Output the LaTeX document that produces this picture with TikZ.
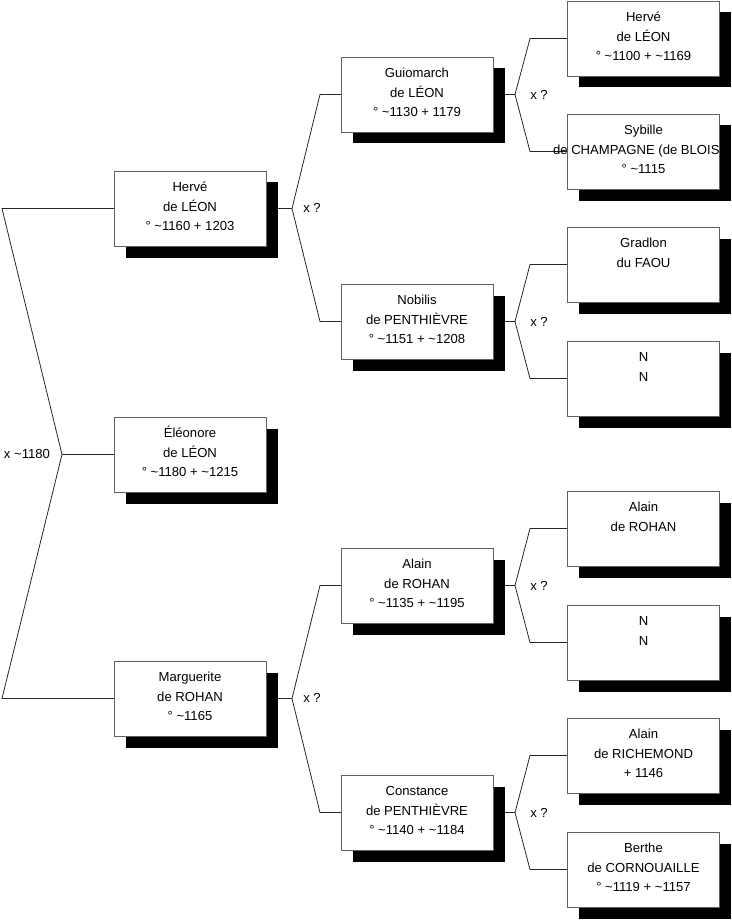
\documentclass[tikz,border=0pt]{standalone}
\usepackage{fontspec}
\setmainfont{Liberation Sans}
\usetikzlibrary{shadows,backgrounds}
\newcommand\bxtext[1]{\parbox[t][75pt][t]{152pt}{\centering\rule{0pt}{20.7pt}#1}}
\tikzset{
  pbox/.style={draw=black!62, line width=0.8pt, fill=white,
    minimum width=152pt, minimum height=75pt, inner sep=0pt, outer sep=0pt,
    font=\fontsize{13.1}{19.6}\selectfont,
    drop shadow={shadow xshift=11.5pt, shadow yshift=-11.5pt, fill=black, opacity=1}},
  conn/.style={draw=black!85, line width=0.8pt},
  lbl/.style={font=\fontsize{13.1}{15}\selectfont, inner sep=0pt}
}
\begin{document}
\begin{tikzpicture}[x=1pt,y=-1pt]
\useasboundingbox (0,0) rectangle (731,920);
% column 1
\node[pbox] (herve1) at (190,208.5) {\bxtext{Hervé\\de LÉON\\° \textasciitilde1160 + 1203}};
\node[pbox] (eleo) at (190,454.5) {\bxtext{Éléonore\\de LÉON\\° \textasciitilde1180 + \textasciitilde1215}};
\node[pbox] (marg) at (190,698.5) {\bxtext{Marguerite\\de ROHAN\\° \textasciitilde1165}};
% column 2
\node[pbox] (guio) at (417,94.5) {\bxtext{Guiomarch\\de LÉON\\° \textasciitilde1130 + 1179}};
\node[pbox] (nobi) at (417,321.5) {\bxtext{Nobilis\\de PENTHIÈVRE\\° \textasciitilde1151 + \textasciitilde1208}};
\node[pbox] (alain2) at (417,585.5) {\bxtext{Alain\\de ROHAN\\° \textasciitilde1135 + \textasciitilde1195}};
\node[pbox] (const) at (417,812.5) {\bxtext{Constance\\de PENTHIÈVRE\\° \textasciitilde1140 + \textasciitilde1184}};
% column 3
\node[pbox] (herve3) at (643.5,38.5) {\bxtext{Hervé\\de LÉON\\° \textasciitilde1100 + \textasciitilde1169}};
\node[pbox] (syb) at (643.5,151.5) {\bxtext{Sybille\\\makebox[152pt]{de CHAMPAGNE (de BLOIS\phantom{)}\hspace{10pt}}\\° \textasciitilde1115}};
\node[pbox] (grad) at (643.5,264.5) {\bxtext{Gradlon\\du FAOU}};
\node[pbox] (nn1) at (643.5,378.5) {\bxtext{N\\N}};
\node[pbox] (alain3) at (643.5,528.5) {\bxtext{Alain\\de ROHAN}};
\node[pbox] (nn2) at (643.5,642.5) {\bxtext{N\\N}};
\node[pbox] (rich) at (643.5,755.5) {\bxtext{Alain\\de RICHEMOND\\+ 1146}};
\node[pbox] (berthe) at (643.5,869.5) {\bxtext{Berthe\\de CORNOUAILLE\\° \textasciitilde1119 + \textasciitilde1157}};
% fork points
\coordinate (r1) at (2,208.5);
\coordinate (r2) at (2,698.5);
\coordinate (f0) at (62,454.5);
\coordinate (fa) at (292,208.5);
\coordinate (fa1) at (320,94.5);
\coordinate (fa2) at (320,321.5);
\coordinate (fb) at (292,698.5);
\coordinate (fb1) at (320,585.5);
\coordinate (fb2) at (320,812.5);
\coordinate (fc) at (515,94.5);
\coordinate (fc1) at (530,38.5);
\coordinate (fc2) at (530,151.5);
\coordinate (fd) at (515,321.5);
\coordinate (fd1) at (530,264.5);
\coordinate (fd2) at (530,378.5);
\coordinate (fe) at (515,585.5);
\coordinate (fe1) at (530,528.5);
\coordinate (fe2) at (530,642.5);
\coordinate (ff) at (515,812.5);
\coordinate (ff1) at (530,755.5);
\coordinate (ff2) at (530,869.5);
% labels
\node[lbl] (l0) at (27,453.5) {x \textasciitilde1180};
\node[lbl] (la) at (312,208) {x ?};
\node[lbl] (lb) at (312,698) {x ?};
\node[lbl] (lc) at (539,94.5) {x ?};
\node[lbl] (ld) at (539,321.5) {x ?};
\node[lbl] (le) at (539,585.5) {x ?};
\node[lbl] (lf) at (539,812.5) {x ?};
\begin{scope}[on background layer]
\draw[conn] (herve1.west) -- (r1) -- (f0) -- (r2) -- (marg.west);
\draw[conn] (f0) -- (eleo.west);
\draw[conn] (herve1.east) -- (fa);
\draw[conn] (guio.west) -- (fa1) -- (fa) -- (fa2) -- (nobi.west);
\draw[conn] (marg.east) -- (fb);
\draw[conn] (alain2.west) -- (fb1) -- (fb) -- (fb2) -- (const.west);
\draw[conn] (guio.east) -- (fc);
\draw[conn] (herve3.west) -- (fc1) -- (fc) -- (fc2) -- (syb.west);
\draw[conn] (nobi.east) -- (fd);
\draw[conn] (grad.west) -- (fd1) -- (fd) -- (fd2) -- (nn1.west);
\draw[conn] (alain2.east) -- (fe);
\draw[conn] (alain3.west) -- (fe1) -- (fe) -- (fe2) -- (nn2.west);
\draw[conn] (const.east) -- (ff);
\draw[conn] (rich.west) -- (ff1) -- (ff) -- (ff2) -- (berthe.west);
\end{scope}
\end{tikzpicture}
\end{document}
